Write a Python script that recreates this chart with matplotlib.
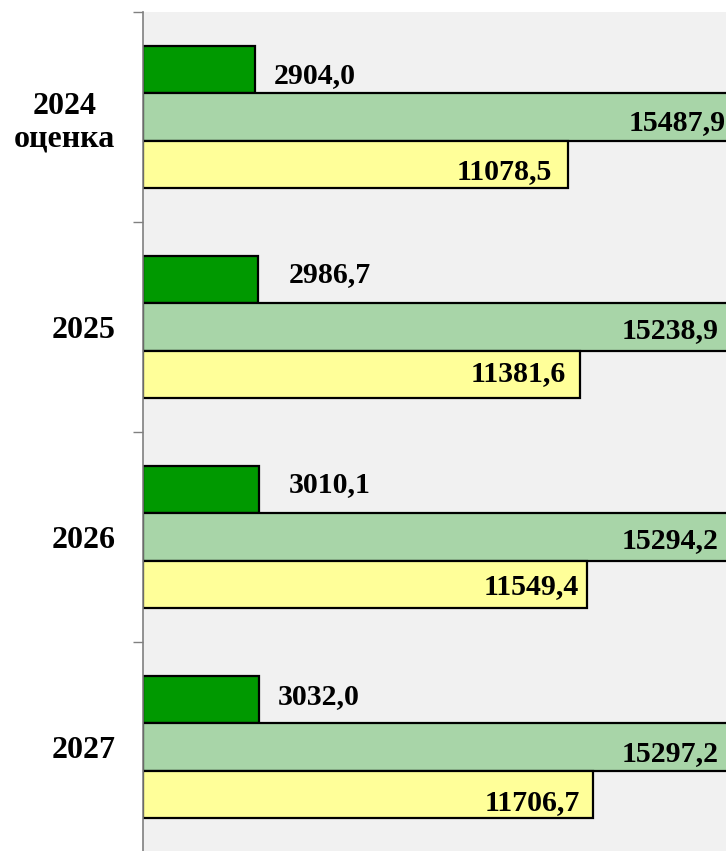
import matplotlib
matplotlib.use('Agg')
import matplotlib.pyplot as plt
import numpy as np
from matplotlib.transforms import offset_copy

years = ['2024\nоценка', '2025', '2026', '2027']
series_a = [2904.0, 2986.7, 3010.1, 3032.0]
series_b = [15487.9, 15238.9, 15294.2, 15297.2]
series_c = [11078.5, 11381.6, 11549.4, 11706.7]

col_a = '#009900'
col_b = '#a8d5a8'
col_c = '#ffff99'
bg = '#f1f1f1'


def fmt(v):
    return f'{v:.1f}'.replace('.', ',')


fig = plt.figure(figsize=(7.26, 8.51), dpi=100)
ax = fig.add_axes([143 / 726, -1 / 851, 583 / 726, 840 / 851])
ax.set_facecolor(bg)

y = np.arange(len(years))
h = 0.224

ax.barh(y - h, series_a, height=h, color=col_a, edgecolor='black', linewidth=1.6)
ax.barh(y, series_b, height=h, color=col_b, edgecolor='black', linewidth=1.6)
ax.barh(y + h, series_c, height=h, color=col_c, edgecolor='black', linewidth=1.6)

ax.set_xlim(0, 15182)
ax.set_ylim(len(years) - 0.5, -0.5)

font = dict(family='Liberation Serif', weight='bold', size=21.5)

# label nudges in pixels (the labels were placed by hand in the original)
nudge_a = [(19, -6), (31, 5), (30, 5), (18, 3)]
nudge_b = [(-12, -6), (-10, -4), (-12, -4), (-12, -7)]
nudge_c = [(-16, -8), (-14, 0), (-8, -3), (-13, -9)]
for i in range(len(years)):
    t = offset_copy(ax.transData, fig=fig, x=nudge_a[i][0], y=nudge_a[i][1], units='dots')
    ax.text(series_a[i], y[i] - h, fmt(series_a[i]), transform=t,
            ha='left', va='center', **font)
    t = offset_copy(ax.transData, fig=fig, x=nudge_b[i][0], y=nudge_b[i][1], units='dots')
    ax.text(series_b[i], y[i], fmt(series_b[i]), transform=t,
            ha='right', va='center', clip_on=False, **font)
    t = offset_copy(ax.transData, fig=fig, x=nudge_c[i][0], y=nudge_c[i][1], units='dots')
    ax.text(series_c[i], y[i] + h, fmt(series_c[i]), transform=t,
            ha='right', va='center', **font)

ax.set_yticks(np.arange(len(years) + 1) - 0.5)
ax.set_yticklabels([])
ax.set_yticks(y, minor=True)
ax.set_yticklabels(years, minor=True, family='Liberation Serif',
                   fontweight='bold', fontsize=23, multialignment='center')
ax.tick_params(axis='y', which='major', length=7.2, width=1, color='#808080', direction='out')
ax.tick_params(axis='y', which='minor', length=0, pad=20)
ax.set_xticks([])

for s in ['top', 'right', 'bottom']:
    ax.spines[s].set_visible(False)
ax.spines['left'].set_color('#808080')
ax.spines['left'].set_linewidth(1.2)

fig.savefig('out.png', dpi=100, facecolor='white')
